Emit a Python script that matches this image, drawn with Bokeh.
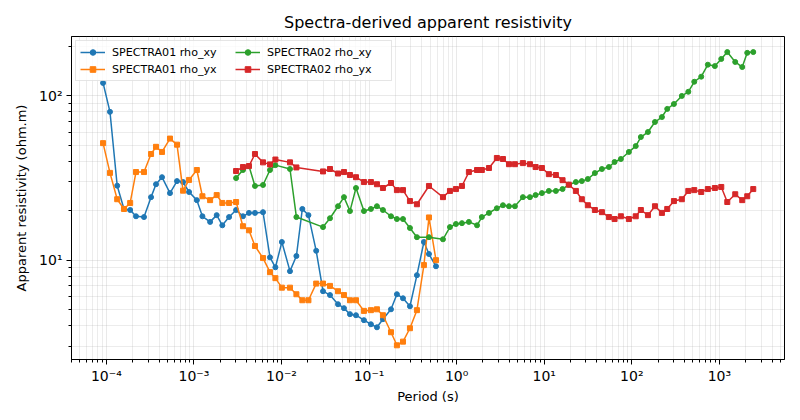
from bokeh.plotting import figure
from bokeh.models import (Range1d, FixedTicker, CustomJSTickFormatter, Legend, LegendItem)
from bokeh.embed import file_html
from bokeh.resources import INLINE

# ---------------- data ----------------
period_01 = [9.17e-5, 1.10e-4, 1.33e-4, 1.59e-4, 1.87e-4, 2.18e-4, 2.69e-4, 3.24e-4,
             3.69e-4, 4.32e-4, 5.33e-4, 6.41e-4, 7.51e-4, 8.80e-4, 1.08e-3, 1.25e-3,
             1.53e-3, 1.82e-3, 2.11e-3, 2.52e-3, 3.03e-3, 3.63e-3, 4.25e-3, 4.98e-3,
             6.15e-3, 7.39e-3, 8.52e-3, 1.01e-2, 1.25e-2, 1.48e-2, 1.73e-2, 2.03e-2,
             2.49e-2, 2.98e-2, 3.58e-2, 4.42e-2, 5.17e-2, 6.05e-2, 7.09e-2, 8.74e-2,
             0.105, 0.123, 0.144, 0.178, 0.208, 0.244, 0.293, 0.352, 0.423, 0.483, 0.581]

rho01_xy = [120, 80, 28.4, 20.5, 20.2, 18.5, 18.3, 24.2, 29, 32, 25.6, 30.3, 29.9, 26,
            23.2, 18.5, 17.1, 18.8, 16.3, 18.3, 20.2, 18.5, 19.4, 19.4, 19.6, 10.4, 9.05,
            12.9, 8.57, 10.6, 20.5, 18.8, 11.4, 6.47, 6.13, 5.39, 5.1, 4.69, 4.62, 4.31,
            4.07, 3.9, 4.37, 5.02, 6.2, 5.86, 5.24, 8.1, 12.9, 10.9, 9.18]

rho01_yx = [51.6, 34, 23.5, 20.5, 22.3, 34.4, 34.4, 44.3, 49, 45.6, 55, 50.5, 26.5, 30.8,
            35.4, 24.5, 23.2, 24.9, 22.3, 22.3, 22.6, 16.1, 15.2, 12.2, 10.3, 8.45, 7.77,
            6.8, 6.8, 6.2, 5.7, 5.7, 7.2, 7.2, 6.97, 6.47, 6.13, 5.7, 5.7, 4.91, 4.96,
            5.02, 4.62, 3.64, 3.03, 3.19, 3.85, 4.96, 9.33, 18.2, 10]

period_02 = [3.03e-3, 3.63e-3, 4.25e-3, 4.98e-3, 6.15e-3, 7.39e-3, 8.52e-3, 1.25e-2,
             1.48e-2, 2.98e-2, 3.58e-2, 4.42e-2, 5.17e-2, 6.05e-2, 7.09e-2, 8.74e-2,
             0.105, 0.123, 0.144, 0.178, 0.208, 0.244, 0.293, 0.352, 0.483, 0.698, 0.839,
             0.982, 1.15, 1.38, 1.71, 1.94, 2.34, 2.88, 3.38, 3.96, 4.63, 5.71, 6.87, 7.98,
             9.42, 11.3, 13.6, 16.2, 19.1, 23.0, 26.9, 31.5, 37.9, 45.6, 54.8, 63.6, 75.1,
             92.7, 111, 127, 153, 184, 221, 254, 303, 373, 442, 517, 621, 739, 889, 1052,
             1232, 1519, 1825, 2082, 2439]

rho02_xy = [31.6, 35.4, 37.4, 28.3, 28.7, 35.4, 37.9, 35.9, 18.3, 15.9, 18.0, 21.3, 24.2,
            19.9, 27.5, 19.9, 20.5, 21.3, 20.2, 18.5, 17.8, 17.8, 15.7, 13.8, 13.8, 13.4,
            15.9, 16.6, 16.8, 17.1, 16.3, 18.3, 19.4, 20.7, 21.6, 21.3, 21.3, 24.2, 24.2,
            24.9, 25.6, 26.4, 26.4, 27.1, 28.8, 29.9, 30.3, 31.2, 33.9, 35.9, 36.9, 39.6,
            41.3, 45.6, 49.5, 56.2, 60.3, 69.4, 74.4, 83.4, 89.3, 100, 106, 122, 131, 155,
            152, 168, 185, 161, 150, 183, 185]

rho02_yx = [34.9, 36.9, 37.4, 44.3, 39.4, 38.3, 41.0, 39.4, 36.7, 34.7, 35.9, 33.7, 34.4,
            33.0, 32.0, 29.9, 29.9, 29.0, 27.5, 29.5, 26.7, 26.7, 22.9, 21.9, 28.3, 24.2,
            26.4, 27.1, 28.3, 34.4, 35.4, 35.4, 36.4, 41.9, 41.3, 38.4, 38.4, 39.0, 38.4,
            36.9, 36.4, 33.4, 33.0, 30.7, 28.8, 26.4, 23.5, 21.6, 20.2, 19.6, 18.3, 17.8,
            18.5, 17.8, 18.5, 20.2, 18.8, 21.3, 19.4, 20.5, 22.9, 23.5, 26.4, 26.7, 26.0,
            27.1, 27.5, 27.9, 22.6, 25.2, 23.2, 24.5, 27.1]

series_labels = ["SPECTRA01 rho_xy", "SPECTRA01 rho_yx", "SPECTRA02 rho_xy", "SPECTRA02 rho_yx"]
colors = ["#1f77b4", "#ff7f0e", "#2ca02c", "#d62728"]
markers = ["circle", "square", "circle", "square"]

FONT = "DejaVu Sans"

p = figure(width=800, height=420, x_axis_type="log", y_axis_type="log",
           x_range=Range1d(10 ** -4.398, 10 ** 3.744),
           y_range=Range1d(10 ** 0.395, 10 ** 2.362),
           output_backend="svg", toolbar_location=None,
           title="Spectra-derived apparent resistivity",
           min_border_left=71, min_border_right=16, min_border_top=36, min_border_bottom=61)

p.background_fill_color = "white"
p.border_fill_color = "white"
p.outline_line_color = "black"
p.outline_line_width = 1
p.outline_line_alpha = 1

p.title.align = "center"
p.title.text_font = FONT
p.title.text_font_size = "16px"
p.title.text_font_style = "normal"
p.title.text_color = "black"

# ticks
x_major = [10.0 ** k for k in range(-5, 5)]
x_minor = [m * 10.0 ** k for k in range(-5, 5) for m in range(2, 10)]
p.xaxis.ticker = FixedTicker(ticks=x_major, minor_ticks=x_minor)
p.yaxis.ticker = FixedTicker(ticks=x_major, minor_ticks=x_minor)

fmt_code = """
const e = Math.round(Math.log10(tick));
const sup = {'-':'\u207b','0':'\u2070','1':'\u00b9','2':'\u00b2','3':'\u00b3','4':'\u2074',
             '5':'\u2075','6':'\u2076','7':'\u2077','8':'\u2078','9':'\u2079'};
return '10' + String(e).split('').map(c => sup[c]).join('');
"""
for ax in (p.xaxis, p.yaxis):
    ax.formatter = CustomJSTickFormatter(code=fmt_code)
    ax.major_label_text_font = FONT
    ax.major_label_text_font_size = "14px"
    ax.major_label_text_color = "black"
    ax.axis_label_text_font = FONT
    ax.axis_label_text_font_size = "13px"
    ax.axis_label_text_font_style = "normal"
    ax.axis_label_text_color = "black"
    ax.axis_line_color = "black"
    ax.major_tick_line_color = "black"
    ax.minor_tick_line_color = "black"
    ax.major_tick_out = 5
    ax.major_tick_in = 0
    ax.minor_tick_out = 3
    ax.minor_tick_in = 0

p.xaxis.major_label_standoff = 3
p.xaxis.axis_label_standoff = 2
p.yaxis.major_label_standoff = 4
p.yaxis.axis_label_standoff = 7

p.xaxis.axis_label = "Period (s)"
p.yaxis.axis_label = "Apparent resistivity (ohm.m)"

for g in (p.xgrid, p.ygrid):
    g.grid_line_color = "#b0b0b0"
    g.grid_line_alpha = 0.35
    g.grid_line_width = 0.8
    g.minor_grid_line_color = "#b0b0b0"
    g.minor_grid_line_alpha = 0.3
    g.minor_grid_line_width = 0.8

xs = [period_01, period_01, period_02, period_02]
ys = [rho01_xy, rho01_yx, rho02_xy, rho02_yx]
items = []
for x, y, c, m, lab in zip(xs, ys, colors, markers, series_labels):
    ln = p.line(x, y, line_color=c, line_width=1.5)
    sc = p.scatter(x, y, marker=m, size=5, fill_color=c, line_color=c)
    items.append(LegendItem(label=lab, renderers=[ln, sc]))

legend = Legend(items=items, location="top_left", ncols=2)
legend.label_text_font = FONT
legend.label_text_font_size = "11.1px"
legend.label_text_color = "black"
legend.glyph_width = 25
legend.glyph_height = 14
legend.label_height = 14
legend.label_width = 120
legend.label_standoff = 7
legend.spacing = 3
legend.padding = 4
legend.margin = 4
legend.border_line_color = "#cccccc"
legend.border_line_width = 1
legend.background_fill_alpha = 0.8
p.add_layout(legend)

open("out.html", "w").write(file_html(p, INLINE))
